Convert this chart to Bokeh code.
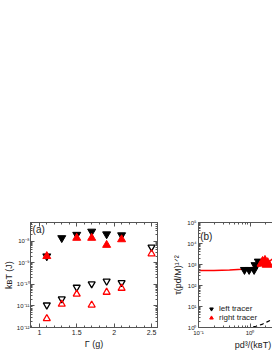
from bokeh.plotting import figure
from bokeh.models import (LogAxis, LinearAxis, FixedTicker, CustomJSTickFormatter, Label,
                          Legend, LegendItem, Range1d, SingleIntervalTicker)
from bokeh.layouts import row
from bokeh.embed import file_html
from bokeh.resources import INLINE

# ---------------- data: panel (a) ----------------
gamma = [1.1, 1.3, 1.5, 1.7, 1.9, 2.1]
kT_left_filled = [2.0e-9, 1.4e-8, 2.0e-8, 2.8e-8, 2.1e-8, 1.9e-8]
gamma_red = [1.1, 1.5, 1.7, 1.9, 2.1]
kT_right_filled = [2.0e-9, 1.4e-8, 1.4e-8, 6.6e-9, 1.2e-8]
gamma_open = [1.1, 1.3, 1.5, 1.7, 1.9, 2.1, 2.5]
kT_left_open = [1.1e-11, 2.1e-11, 7.3e-11, 1.05e-10, 1.4e-10, 1.2e-10, 5.3e-9]
kT_right_open = [2.6e-12, 1.2e-11, 3.5e-11, 1.1e-11, 4.3e-11, 6.6e-11, 2.6e-9]

# ---------------- data: panel (b) ----------------
fit_x = [0.1, 0.2, 0.4, 0.7, 1.0, 1.4, 1.8, 2.2, 2.7]
fit_y = [520, 525, 545, 600, 680, 800, 950, 1200, 1800]
left_x = [0.78, 0.96, 1.2, 1.25, 1.45]
left_y = [560, 560, 560, 950, 1400]
right_x = [1.75, 1.95, 2.2]
right_y = [1200, 1350, 1050]
dash_x = [0.85, 1.3, 1.7, 2.2, 2.7]
dash_y = [0.9, 1.15, 1.4, 1.9, 2.4]

FONT = "Liberation Sans"

sup_code = """
const e = Math.round(Math.log10(tick));
const m = {'-':'\u207b','0':'\u2070','1':'\u00b9','2':'\u00b2','3':'\u00b3','4':'\u2074','5':'\u2075','6':'\u2076','7':'\u2077','8':'\u2078','9':'\u2079'};
return '10' + String(e).split('').map(c => m[c]).join('');
"""
empty_code = "return '';"


def log_ticker(e0, e1):
    major = [10.0 ** e for e in range(e0, e1 + 1)]
    minor = [k * 10.0 ** e for e in range(e0, e1 + 1) for k in range(2, 10)]
    return FixedTicker(ticks=major, minor_ticks=minor)


def style_axis(ax, labels=True, font_size="7px"):
    ax.major_tick_in = 4
    ax.major_tick_out = 0
    ax.minor_tick_in = 2
    ax.minor_tick_out = 0
    ax.axis_line_color = "#555555"
    ax.major_tick_line_color = "#555555"
    ax.minor_tick_line_color = "#555555"
    ax.major_label_text_font = FONT
    ax.major_label_text_font_size = font_size
    ax.major_label_text_color = "#222222"
    ax.major_label_standoff = 2
    ax.axis_label_text_font = FONT
    ax.axis_label_text_font_style = "normal"
    ax.axis_label_text_font_size = "9px"
    ax.axis_label_text_color = "#222222"
    ax.axis_label_standoff = 1
    if not labels:
        ax.formatter = CustomJSTickFormatter(code=empty_code)
        ax.major_label_standoff = 0


# ---------------- panel (a) ----------------
pa = figure(width=170, height=352, x_range=Range1d(0.882, 2.58), y_range=Range1d(1e-12, 7.3e-8),
            y_axis_type="log", output_backend="svg", toolbar_location=None,
            min_border_left=28, min_border_right=13, min_border_top=221, min_border_bottom=24)
pa.xgrid.visible = False
pa.ygrid.visible = False
pa.outline_line_color = "#555555"

pa.xaxis.ticker = SingleIntervalTicker(interval=0.5, num_minor_ticks=5)
pa.xaxis.axis_label = "\u0393 (g)"
pa.yaxis.ticker = log_ticker(-12, -8)
pa.yaxis.formatter = CustomJSTickFormatter(code=sup_code)
pa.yaxis.axis_label = "k\u0299T (J)"
style_axis(pa.xaxis[0])
style_axis(pa.yaxis[0], font_size="6px")
pa.yaxis.major_label_standoff = 1
pa.yaxis.axis_label_standoff = 0

top_a = LinearAxis(ticker=SingleIntervalTicker(interval=0.5, num_minor_ticks=5))
style_axis(top_a, labels=False)
pa.add_layout(top_a, "above")
right_a = LogAxis(ticker=log_ticker(-12, -8))
style_axis(right_a, labels=False)
pa.add_layout(right_a, "right")

pa.scatter(gamma_open, kT_left_open, marker="inverted_triangle", size=7,
           fill_color=None, line_color="black", line_width=1.3)
pa.scatter(gamma_open, kT_right_open, marker="triangle", size=7,
           fill_color=None, line_color="red", line_width=1.3)
pa.scatter(gamma, kT_left_filled, marker="inverted_triangle", size=8,
           fill_color="black", line_color="black")
pa.scatter(gamma_red, kT_right_filled, marker="triangle", size=8,
           fill_color="red", line_color="red")

pa.add_layout(Label(x=0.91, y=3.5e-8, text="(a)", text_font=FONT, text_font_size="10px",
                    text_baseline="middle", text_color="#222222"))

# ---------------- panel (b) ----------------
pb = figure(width=102, height=352, x_range=Range1d(0.1, 2.73), y_range=Range1d(1, 1e5),
            x_axis_type="log", y_axis_type="log", output_backend="svg", toolbar_location=None,
            min_border_left=23, min_border_right=0, min_border_top=222, min_border_bottom=24)
pb.xgrid.visible = False
pb.ygrid.visible = False
pb.outline_line_color = None

pb.xaxis.ticker = log_ticker(-1, 0)
pb.xaxis.formatter = CustomJSTickFormatter(code=sup_code)
# the title runs off the right edge in the reference; padded so it starts mid-frame
pb.xaxis.axis_label = "\u00a0" * 14 + "pd\u00b3/(k\u0299T)"
pb.yaxis.ticker = log_ticker(0, 5)
pb.yaxis.formatter = CustomJSTickFormatter(code=sup_code)
pb.yaxis.axis_label = "\u03c4(pd/M)\u00b9\u141f\u00b2"
style_axis(pb.xaxis[0], font_size="6px")
style_axis(pb.yaxis[0], font_size="6px")

top_b = LogAxis(ticker=log_ticker(-1, 0))
style_axis(top_b, labels=False)
pb.add_layout(top_b, "above")

pb.line(fit_x, fit_y, line_color="red", line_width=1.5)
pb.line(dash_x, dash_y, line_color="black", line_width=1.2, line_dash="4 3")
r_left = pb.scatter(left_x, left_y, marker="inverted_triangle", size=8,
                    fill_color="black", line_color="black")
r_right = pb.scatter(right_x, right_y, marker="triangle", size=11,
                     fill_color="red", line_color="red")

leg = Legend(items=[LegendItem(label="left tracer", renderers=[r_left]),
                    LegendItem(label="right tracer", renderers=[r_right])],
             location=(8, 5), border_line_color=None, background_fill_alpha=0,
             label_text_font=FONT, label_text_font_size="8px", label_text_color="#222222",
             glyph_width=10, glyph_height=9, label_height=9, label_standoff=3,
             spacing=0, padding=0, margin=0)
pb.add_layout(leg)

pb.add_layout(Label(x=0.108, y=2.2e4, text="(b)", text_font=FONT, text_font_size="10px",
                    text_baseline="middle", text_color="#222222"))

layout = row(pa, pb)
open("out.html", "w").write(file_html(layout, INLINE))
